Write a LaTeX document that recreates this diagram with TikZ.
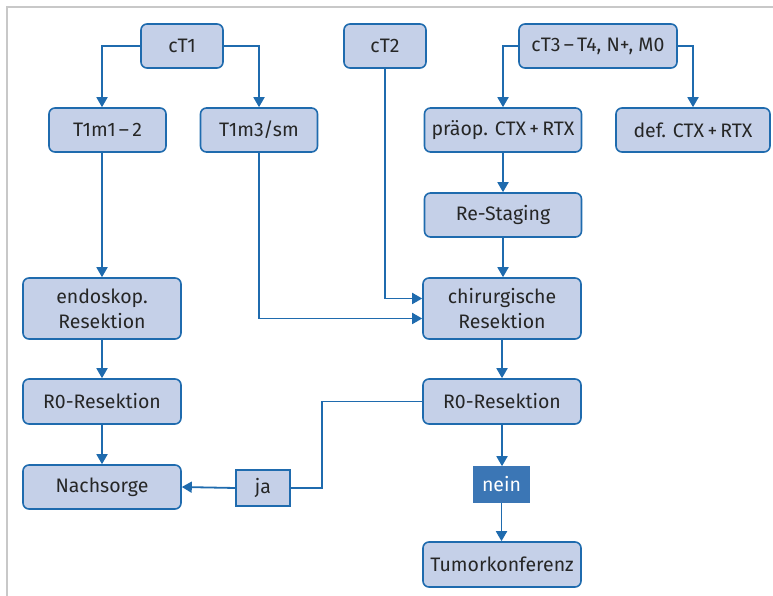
\documentclass[tikz,border=0pt]{standalone}
\usepackage{fontspec}
\setmainfont{Fira Sans}
\usetikzlibrary{arrows.meta}
\definecolor{boxfill}{HTML}{C5D0E8}
\definecolor{boxline}{HTML}{1F6BAE}
\definecolor{neinfill}{HTML}{3B76B5}
\definecolor{framegrey}{HTML}{C8C8C8}
\tikzset{
    flow-box/.style = {draw=boxline, fill=boxfill, line width=1.6pt, rectangle, rounded corners=6pt, inner sep=0pt, align=center, text=black!85, font=\fontsize{19.5}{25}\selectfont},
    small-box/.style = {flow-box, rounded corners=0pt, minimum width=54pt, minimum height=36pt},
    nein-box/.style = {small-box, draw=neinfill, fill=neinfill, text=white, minimum width=55pt, minimum height=35pt},
    link/.style = {draw=boxline, line width=1.8pt, -{Triangle[width=11pt,length=10pt]}},
    plain-link/.style = {draw=boxline, line width=1.8pt},
}

\begin{document}
\begin{tikzpicture}[x=1pt, y=1pt]
\useasboundingbox (0,0) rectangle (773,596);
\draw[framegrey, line width=2pt] (7,0) -- (7,589) -- (773,589);

% top row
\node[flow-box, minimum width=82pt, minimum height=44pt] (cT1) at (182,550) {cT1};
\node[flow-box, minimum width=82pt, minimum height=44pt] (cT2) at (385,550) {cT2};
\node[flow-box, minimum width=158pt, minimum height=44pt] (cT3) at (598,550) {cT3\,--\,T4, N+, M0};

% second row
\node[flow-box, minimum width=117pt, minimum height=44pt] (T1m1) at (107.5,466) {T1m1\,--\,2};
\node[flow-box, minimum width=117pt, minimum height=44pt] (T1m3) at (259,466) {T1m3/sm};
\node[flow-box, minimum width=157pt, minimum height=44pt] (praeop) at (503,466) {präop. CTX\,+\,RTX};
\node[flow-box, minimum width=154pt, minimum height=44pt] (def) at (693,466) {def. CTX\,+\,RTX};
\node[flow-box, minimum width=157pt, minimum height=44pt] (restaging) at (503,381) {Re-Staging};

% left column
\node[flow-box, minimum width=158pt, minimum height=61pt] (endo) at (102,287.5) {endoskop.\\Resektion};
\node[flow-box, minimum width=158pt, minimum height=45pt] (R0a) at (102,194.5) {R0-Resektion};
\node[flow-box, minimum width=158pt, minimum height=44pt] (nachsorge) at (102,109) {Nachsorge};

% right column
\node[flow-box, minimum width=158pt, minimum height=61pt] (chir) at (502,287.5) {chirurgische\\Resektion};
\node[flow-box, minimum width=158pt, minimum height=45pt] (R0b) at (502,194.5) {R0-Resektion};
\node[nein-box] (nein) at (501.5,111.5) {nein};
\node[flow-box, minimum width=158pt, minimum height=45pt] (tumor) at (502,31.5) {Tumorkonferenz};
\node[small-box] (ja) at (263,108) {ja};

% connectors
\draw[link] (cT1.west) -| (T1m1.north -| endo.north);
\draw[link] (cT1.east) -| (T1m3.north);
\draw[link] (cT3.west) -| (praeop.north);
\draw[link] (cT3.east) -| (def.north);
\draw[link] (praeop) -- (restaging);
\draw[link] (restaging.south) -- (restaging.south |- chir.north);
\draw[link] (T1m1.south -| endo.north) -- (endo.north);
\draw[link] (T1m3.south) |- ([yshift=-10pt]chir.west);
\draw[link] (cT2.south) |- ([yshift=10pt]chir.west);
\draw[link] (endo) -- (R0a);
\draw[link] (R0a) -- (nachsorge);
\draw[link] (chir) -- (R0b);
\draw[link] (R0b.south) -- (R0b.south |- nein.north);
\draw[link] (nein.south) -- (nein.south |- tumor.north);
\draw[plain-link] (R0b.west) -- ++(-100,0) |- (ja.east);
\draw[link] (ja.west) -- (nachsorge.east);
\end{tikzpicture}
\end{document}
